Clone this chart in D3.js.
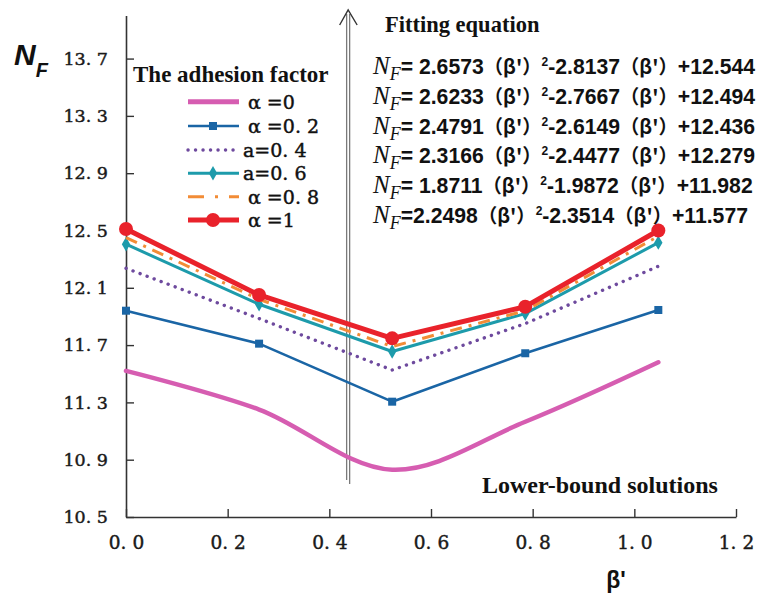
<!DOCTYPE html>
<html>
<head>
<meta charset="utf-8">
<script src="https://cdn.jsdelivr.net/npm/d3@7/dist/d3.min.js"></script>
<style>
  html, body { margin: 0; padding: 0; background: #fff; }
  svg { display: block; }
</style>
</head>
<body>
<svg id="chart" width="767" height="601"></svg>
<script>
// β' values (π/12 steps) shared by every series
const betaValues = [0, 0.2618, 0.5236, 0.7854, 1.0472];

// Lower-bound N_F for each adhesion factor α
const nfAlpha0  = [11.52, 11.25, 10.83, 11.165, 11.58];
const nfAlpha02 = [11.94, 11.71, 11.305, 11.643, 11.945];
const nfAlpha04 = [12.236, 11.885, 11.526, 11.85, 12.25];
const nfAlpha06 = [12.404, 11.985, 11.655, 11.92, 12.415];
const nfAlpha08 = [12.45, 12.02, 11.69, 11.94, 12.46];
const nfAlpha1  = [12.51, 12.05, 11.747, 11.968, 12.50];

const seriesLabels = ["α =0", "α =0. 2", "a=0. 4", "a=0. 6", "α =0. 8", "α =1"];

// Axis ticks
const yTicks = [10.5, 10.9, 11.3, 11.7, 12.1, 12.5, 12.9, 13.3, 13.7];
const xTicks = [0, 0.2, 0.4, 0.6, 0.8, 1.0, 1.2];

// Fitted quadratic coefficients: N_F = a(β')² - b(β') + c
const coefA = ["2.6573", "2.6233", "2.4791", "2.3166", "1.8711", "2.2498"];
const coefB = ["2.8137", "2.7667", "2.6149", "2.4477", "1.9872", "2.3514"];
const coefC = ["12.544", "12.494", "12.436", "12.279", "11.982", "11.577"];

const seriesValues = [nfAlpha0, nfAlpha02, nfAlpha04, nfAlpha06, nfAlpha08, nfAlpha1];

// Drawing styles for each series
const styles = [
  { color: "#D65DB1", width: 4.5, dash: null, cap: "round", marker: null, curve: d3.curveCatmullRom },
  { color: "#1A65A5", width: 2.6, dash: null, cap: "butt", marker: "square", curve: d3.curveLinear },
  { color: "#6E4A9E", width: 3.4, dash: "0.1,7.4", cap: "round", marker: null, curve: d3.curveLinear },
  { color: "#1D9BAB", width: 3, dash: null, cap: "butt", marker: "diamond", curve: d3.curveLinear },
  { color: "#F28C36", width: 3, dash: "12,7,3,7", cap: "butt", marker: null, curve: d3.curveLinear },
  { color: "#E9222B", width: 5, dash: null, cap: "round", marker: "circle", curve: d3.curveLinear }
];

const svg = d3.select("#chart");
svg.append("rect").attr("width", 767).attr("height", 601).attr("fill", "#fff");

const x = d3.scaleLinear().domain([0, 1.2]).range([126, 736]);
const y = d3.scaleLinear().domain([10.5, 14.0]).range([517, 15.6]);

const fmt = v => v.toFixed(1).replace(".", ". ");
const serifNum = "'DejaVu Serif', serif";

// Axes with inward ticks
const xAxis = d3.axisBottom(x).tickValues(xTicks).tickFormat(fmt)
  .tickSizeInner(-8).tickSizeOuter(0).tickPadding(19);
const yAxis = d3.axisLeft(y).tickValues(yTicks).tickFormat(fmt)
  .tickSizeInner(-8).tickSizeOuter(0).tickPadding(18);

const gx = svg.append("g").attr("transform", "translate(0,517)").call(xAxis);
const gy = svg.append("g").attr("transform", "translate(126,0)").call(yAxis);
[gx, gy].forEach((g, k) => {
  g.select(".domain").attr("stroke", "#333").attr("stroke-width", 1.6);
  g.selectAll(".tick line").attr("stroke", "#333").attr("stroke-width", 1.4);
  g.selectAll(".tick text")
    .attr("fill", "#1a1a1a")
    .attr("stroke", "#1a1a1a").attr("stroke-width", 0.45)
    .style("font-family", serifNum)
    .style("font-size", k === 0 ? "18.5px" : "17.5px");
});

// Vertical double arrow
const ax = x(0.437);
svg.append("line").attr("x1", ax - 1.5).attr("x2", ax - 1.5).attr("y1", 480).attr("y2", 14)
  .attr("stroke", "#7a7a7a").attr("stroke-width", 1.3);
svg.append("line").attr("x1", ax + 1.5).attr("x2", ax + 1.5).attr("y1", 484).attr("y2", 14)
  .attr("stroke", "#7a7a7a").attr("stroke-width", 1.3);
svg.append("path")
  .attr("d", `M${ax - 8.5},25 L${ax},10 L${ax + 9},25`)
  .attr("fill", "none").attr("stroke", "#333").attr("stroke-width", 1.4);

// Series lines
const line = d3.line().x(d => x(d[0])).y(d => y(d[1]));

function drawMarker(g, kind, cx, cy, color) {
  if (kind === "square") {
    g.append("rect").attr("x", cx - 4).attr("y", cy - 4).attr("width", 8).attr("height", 8)
      .attr("fill", color);
  } else if (kind === "diamond") {
    g.append("path").attr("transform", `translate(${cx},${cy})`)
      .attr("d", d3.symbol(d3.symbolDiamond, 60)()).attr("fill", color);
  } else if (kind === "circle") {
    g.append("circle").attr("cx", cx).attr("cy", cy).attr("r", 7).attr("fill", color);
  }
}

seriesValues.forEach((vals, i) => {
  const st = styles[i];
  const pts = betaValues.map((b, j) => [b, vals[j]]);
  const g = svg.append("g");
  g.append("path")
    .attr("d", line.curve(st.curve)(pts))
    .attr("fill", "none")
    .attr("stroke", st.color)
    .attr("stroke-width", st.width)
    .attr("stroke-linecap", st.cap)
    .attr("stroke-linejoin", "round")
    .attr("stroke-dasharray", st.dash);
  if (st.marker) pts.forEach(p => drawMarker(g, st.marker, x(p[0]), y(p[1]), st.color));
});

// Legend
const legendRowY = [101.7, 126, 150, 173.3, 196.7, 220];
svg.append("text").attr("x", 133).attr("y", 82)
  .style("font-family", "'Liberation Serif', serif").style("font-weight", "bold")
  .style("font-size", "23px").attr("fill", "#111").text("The adhesion factor");

seriesLabels.forEach((lab, i) => {
  const st = styles[i];
  const ly = legendRowY[i];
  const g = svg.append("g");
  g.append("line").attr("x1", 188).attr("x2", 239).attr("y1", ly).attr("y2", ly)
    .attr("stroke", st.color).attr("stroke-width", i === 0 ? 5 : st.width)
    .attr("stroke-linecap", i === 2 ? "round" : "butt")
    .attr("stroke-dasharray", i === 4 ? "16,11,3,11" : st.dash);
  if (st.marker) drawMarker(g, st.marker, 213, ly, st.color);
  g.append("text").attr("x", lab.startsWith("a") ? 243 : 248).attr("y", ly + 7)
    .style("font-family", serifNum).style("font-size", "19px")
    .attr("stroke", "#111").attr("stroke-width", 0.45)
    .attr("fill", "#111").text(lab);
});

// Fitted equations
svg.append("text").attr("x", 385).attr("y", 32)
  .style("font-family", "'Liberation Serif', serif").style("font-weight", "bold")
  .style("font-size", "22.5px").attr("fill", "#111").text("Fitting equation");

const eqBaseY = [74, 104, 133.5, 163, 192.5, 222.5];
const sans = "'Liberation Sans', Arial, sans-serif";
const cjk = "'Noto Sans CJK SC', sans-serif";
coefA.forEach((a, i) => {
  const t = svg.append("text").attr("x", 373).attr("y", eqBaseY[i]).attr("fill", "#111");
  t.append("tspan").text("N")
    .style("font-family", "'Liberation Serif', serif").style("font-style", "italic").style("font-size", "25px");
  t.append("tspan").text("F").attr("dy", 6)
    .style("font-family", "'Liberation Serif', serif").style("font-style", "italic").style("font-size", "18px");
  t.append("tspan").text(i === 5 ? "=" + a : "= " + a).attr("dy", -6)
    .style("font-family", sans).style("font-weight", "bold").style("font-size", "21.2px");
  t.append("tspan").text("（β'）")
    .style("font-family", cjk).style("font-weight", "bold").style("font-size", "19.3px");
  t.append("tspan").text("2").attr("dy", -8)
    .style("font-family", sans).style("font-weight", "bold").style("font-size", "12px");
  t.append("tspan").text("-" + coefB[i]).attr("dy", 8)
    .style("font-family", sans).style("font-weight", "bold").style("font-size", "21.2px");
  t.append("tspan").text("（β'）")
    .style("font-family", cjk).style("font-weight", "bold").style("font-size", "19.3px");
  t.append("tspan").text("+" + coefC[i])
    .style("font-family", sans).style("font-weight", "bold").style("font-size", "21.2px");
});

// Annotation and axis titles
svg.append("text").attr("x", 482).attr("y", 493)
  .style("font-family", "'Liberation Serif', serif").style("font-weight", "bold")
  .style("font-size", "24px").attr("fill", "#111").text("Lower-bound solutions");

const nf = svg.append("text").attr("x", 14).attr("y", 65).attr("fill", "#111");
nf.append("tspan").text("N")
  .style("font-family", sans).style("font-weight", "bold")
  .style("font-style", "italic").style("font-size", "30px");
nf.append("tspan").text("F").attr("dy", 12)
  .style("font-family", sans).style("font-weight", "bold")
  .style("font-style", "italic").style("font-size", "20px");

svg.append("text").attr("x", 616).attr("y", 588).attr("text-anchor", "middle")
  .style("font-family", sans).style("font-weight", "bold")
  .style("font-size", "23px").attr("fill", "#111").text("β'");
</script>
</body>
</html>
